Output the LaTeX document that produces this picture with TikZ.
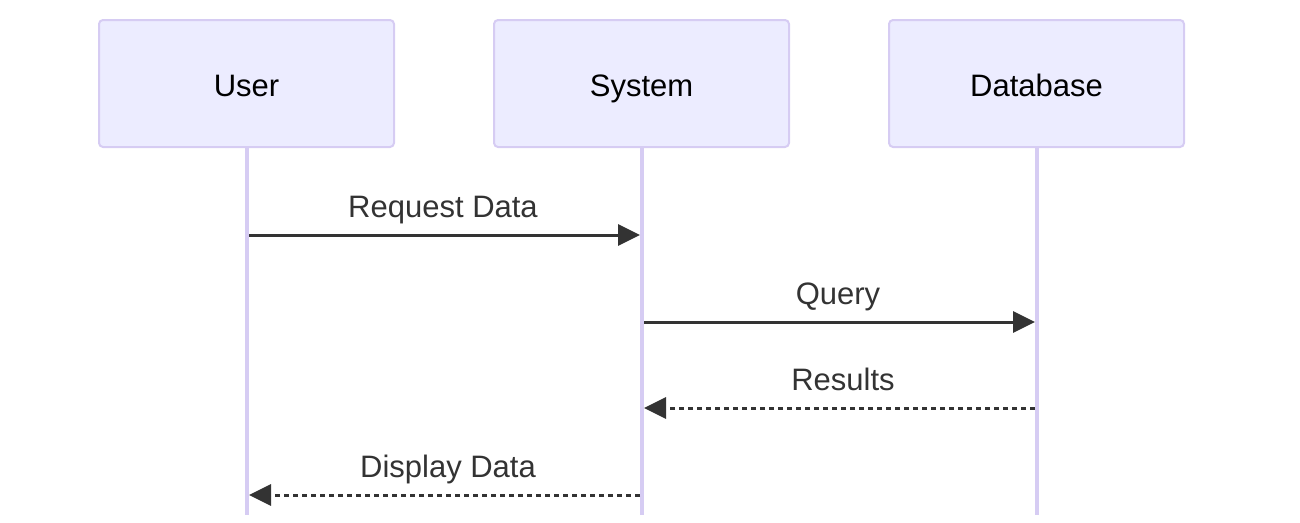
\documentclass[tikz,border=0pt]{standalone}
\usepackage{fontspec}
\setmainfont{Liberation Sans}
\usetikzlibrary{arrows.meta}
\definecolor{actfill}{HTML}{ECECFF}
\definecolor{actline}{HTML}{D6CCF3}
\definecolor{msg}{HTML}{333333}
\begin{document}
\begin{tikzpicture}[x=1pt,y=-1pt,
  actor/.style={draw=actline,fill=actfill,line width=2pt,rounded corners=4pt,
    minimum width=295pt,minimum height=127pt,inner sep=0pt,
    text height=25pt,text depth=0pt,
    font=\fontsize{31}{37}\selectfont,text=black},
  life/.style={draw=actline,line width=3.5pt},
  msgline/.style={draw=msg,line width=3pt,-{Triangle[length=22pt,width=21pt]}},
  dashmsg/.style={msgline,dash pattern=on 5pt off 4pt},
  lbl/.style={font=\fontsize{31}{37}\selectfont,text=msg,anchor=base,inner sep=0pt}]
\useasboundingbox (0,0) rectangle (1300,522);
% lifelines
\coordinate (uend) at (247,515);
\coordinate (send) at (642,515);
\coordinate (dend) at (1037,515);
\draw[life] (247,140) coordinate (utop) -- (uend);
\draw[life] (642,140) coordinate (stop) -- (send);
\draw[life] (1037,140) coordinate (dtop) -- (dend);
% actors
\node[actor] (user) at (246.5,83.5) {User};
\node[actor] (system) at (641.5,83.5) {System};
\node[actor] (db) at (1036.5,83.5) {Database};
% message points
\coordinate (u1) at (249,235);
\coordinate (s1) at (640,235);
\coordinate (s2) at (644,322);
\coordinate (d2) at (1035,322);
\coordinate (d3) at (1035,408);
\coordinate (s3) at (644,408);
\coordinate (s4) at (640,495);
\coordinate (u4) at (249,495);
\draw[msgline] (u1) -- (s1);
\draw[msgline] (s2) -- (d2);
\draw[dashmsg] (d3) -- (s3);
\draw[dashmsg] (s4) -- (u4);
% labels
\node[lbl] (l1) at (443,217) {Request Data};
\node[lbl] (l2) at (838,304) {Query};
\node[lbl] (l3) at (843,390.5) {Results};
\node[lbl] (l4) at (448,477) {Display Data};
\end{tikzpicture}
\end{document}
